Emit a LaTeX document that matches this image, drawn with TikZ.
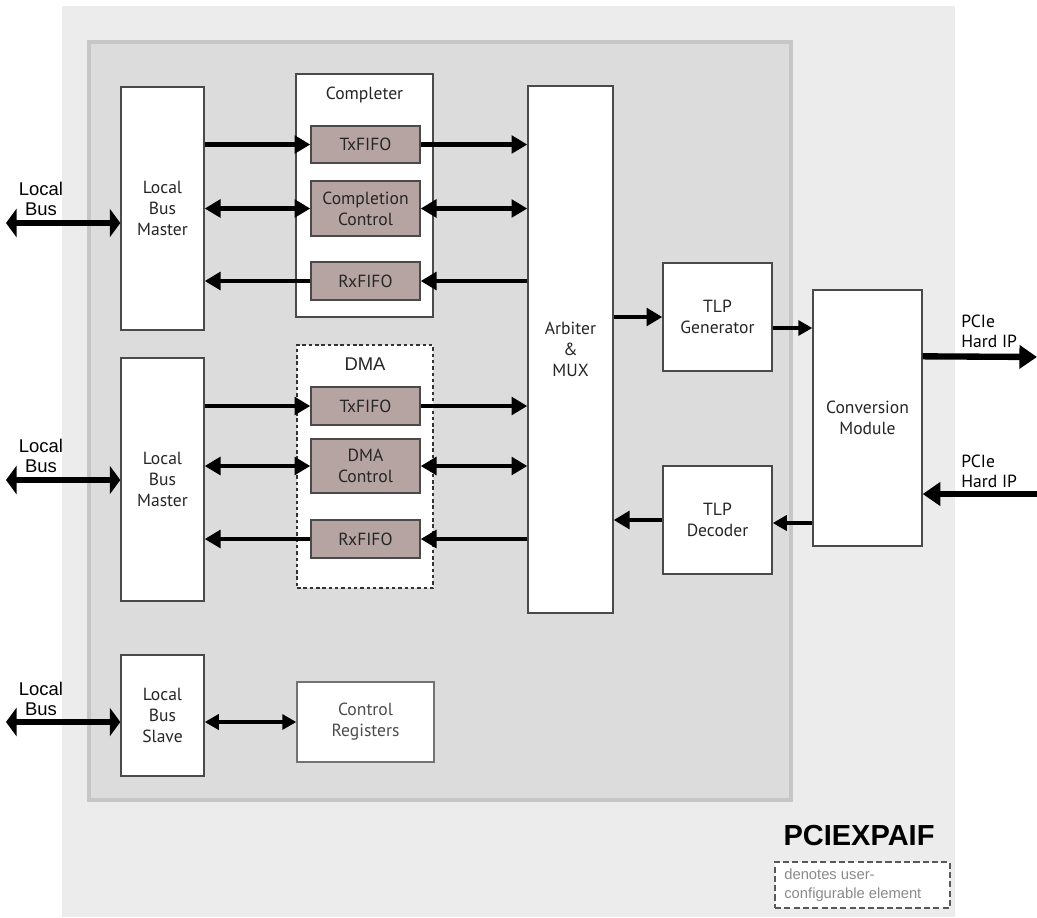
\documentclass[tikz,border=0pt]{standalone}
\usepackage{fontspec}
\setmainfont{PT Sans}
\newfontfamily\helvfont{Liberation Sans}
\usetikzlibrary{arrows.meta}
\definecolor{outergray}{HTML}{EBECEB}
\definecolor{innergray}{HTML}{DCDCDC}
\definecolor{innerrim}{HTML}{C6C6C6}
\definecolor{fifobrown}{HTML}{B6A4A2}
\definecolor{boxline}{HTML}{4A4A4A}
\definecolor{legendgray}{HTML}{8A8A8A}

\begin{document}
\begin{tikzpicture}[x=0.02cm, y=-0.02cm,
    blk/.style={draw=boxline, fill=white, line width=0.8pt, align=center,
                font=\fontsize{10}{12}\selectfont, text=black!85, inner sep=0pt},
    fifo/.style={blk, fill=fifobrown, minimum width=2.18cm},
    bus/.style={line width=2.6pt, -{Triangle[length=9pt,width=10pt]}},
    bibus/.style={line width=2.6pt, {Triangle[length=9pt,width=10pt]}-{Triangle[length=9pt,width=10pt]}},
    thinbus/.style={line width=2pt, -{Triangle[length=8pt,width=8.5pt]}},
    thinbibus/.style={line width=2pt, {Triangle[length=8pt,width=8.5pt]}-{Triangle[length=8pt,width=8.5pt]}},
    extbus/.style={line width=3.6pt, {Triangle[length=6pt,width=16pt]}-{Triangle[length=6pt,width=16pt]}},
    pcie/.style={line width=3.6pt, -{Triangle[length=10pt,width=13pt]}},
    tag/.style={font=\helvfont\fontsize{10.5}{11.5}\selectfont, align=center, inner sep=0pt}]
  \useasboundingbox (0,0) rectangle (1037,917);

  % backgrounds
  \fill[outergray] (62,6) rectangle (955,917);
  \draw[innerrim, fill=innergray, line width=2.8pt] (89,42) rectangle (791,800);

  % completer path
  \node[blk, minimum width=1.66cm, minimum height=4.86cm] (lbmA) at (162.5,208.5) {Local\\Bus\\Master};
  \node[blk, minimum width=2.74cm, minimum height=4.86cm] (complbox) at (364.5,195.5) {};
  \node[font=\fontsize{10}{12}\selectfont, text=black!85] (compltitle) at ([yshift=-0.44cm]complbox.north) {Completer};
  \node[fifo, minimum height=0.74cm] (txA) at (365.5,144.5) {TxFIFO};
  \node[fifo, minimum height=1.1cm] (ccA) at (365.5,208.5) {Completion\\Control};
  \node[fifo, minimum height=0.76cm] (rxA) at (365.5,281) {RxFIFO};

  % DMA path
  \node[blk, minimum width=1.66cm, minimum height=4.86cm] (lbmB) at (162.5,479.5) {Local\\Bus\\Master};
  \node[draw=black!80, fill=white, dash pattern=on 2pt off 1.6pt, line width=1.1pt,
        minimum width=2.72cm, minimum height=4.86cm] (dmabox) at (365,466.5) {};
  \node[tag, font=\helvfont\fontsize{10.5}{12}\selectfont, text=black!85] (dmatitle) at ([yshift=-0.40cm]dmabox.north) {DMA};
  \node[fifo, minimum height=0.76cm] (txB) at (365.5,406) {TxFIFO};
  \node[fifo, minimum height=1.08cm] (dmac) at (365.5,466) {DMA\\Control};
  \node[fifo, minimum height=0.76cm] (rxB) at (365.5,539) {RxFIFO};

  % arbiter, TLP and conversion
  \node[blk, minimum width=1.7cm, minimum height=10.54cm] (arb) at (570.5,349.5) {Arbiter\\\&\\MUX};
  \node[blk, minimum width=2.18cm, minimum height=2.16cm] (tlpg) at (717.5,317) {TLP\\Generator};
  \node[blk, minimum width=2.18cm, minimum height=2.16cm] (tlpd) at (717.5,520) {TLP\\Decoder};
  \node[blk, minimum width=2.18cm, minimum height=5.12cm] (conv) at (867.5,418) {Conversion\\Module};

  % slave
  \node[blk, minimum width=1.66cm, minimum height=2.42cm] (lbs) at (162.5,715.5) {Local\\Bus\\Slave};
  \node[blk, draw=black!55, text=black!70, minimum width=2.74cm, minimum height=1.6cm] (creg) at (365.5,722) {Control\\Registers};

  % external labels
  \node[tag] (lbtagA) at (41,199) {Local\\Bus};
  \node[tag] (lbtagB) at (41,456) {Local\\Bus};
  \node[tag] (lbtagC) at (41,699) {Local\\Bus};
  \node[anchor=west, align=left, font=\fontsize{10}{11.5}\selectfont, inner sep=0pt] (pcoutTag) at (961,331) {PCIe\\Hard IP};
  \node[anchor=west, align=left, font=\fontsize{10}{11.5}\selectfont, inner sep=0pt] (pcinTag) at (961,471) {PCIe\\Hard IP};

  \node[font=\helvfont\bfseries\fontsize{16.5}{18}\selectfont] (ipname) at (859,836) {PCIEXPAIF};
  \node[draw=black!65, fill=white, dash pattern=on 3.5pt off 1.8pt, line width=0.8pt,
        minimum width=3.5cm, minimum height=0.92cm] (legend) at (862.5,885) {};
  \node[anchor=west, align=left, text=legendgray, inner sep=0pt,
        font=\helvfont\fontsize{8.4}{10.6}\selectfont] (legendtxt) at (784,885) {denotes user-\\configurable element};

  % connectors, completer
  \draw[bus] (lbmA.east |- txA.west) -- (txA.west);
  \draw[bus] (txA.east) -- (arb.west |- txA.east);
  \draw[bibus] (lbmA.east |- ccA.west) -- (ccA.west);
  \draw[bibus] (ccA.east) -- (arb.west |- ccA.east);
  \draw[bus] (arb.west |- rxA.east) -- (rxA.east);
  \draw[bus] (rxA.west) -- (lbmA.east |- rxA.west);

  % connectors, DMA
  \draw[bus] (lbmB.east |- txB.west) -- (txB.west);
  \draw[bus] (txB.east) -- (arb.west |- txB.east);
  \draw[bibus] (lbmB.east |- dmac.west) -- (dmac.west);
  \draw[bibus] (dmac.east) -- (arb.west |- dmac.east);
  \draw[bus] (arb.west |- rxB.east) -- (rxB.east);
  \draw[bus] (rxB.west) -- (lbmB.east |- rxB.west);

  % connectors, TLP side
  \draw[bus] (arb.east |- tlpg.west) -- (tlpg.west);
  \coordinate (g2c) at ([yshift=-0.22cm]tlpg.east);
  \draw[thinbus] (g2c) -- (g2c -| conv.west);
  \coordinate (c2d) at ([yshift=-0.06cm]conv.west |- tlpd.east);
  \draw[thinbus] (c2d) -- (c2d -| tlpd.east);
  \draw[bus] (tlpd.west) -- (arb.east |- tlpd.west);

  % outside world
  \coordinate (pcoutS) at ([yshift=-1.34cm]conv.north east);
  \coordinate (pcoutE) at (1037,357);
  \draw[pcie] (pcoutS) -- (pcoutE);
  \coordinate (pcinS) at (1037,494);
  \draw[pcie] (pcinS) -- (conv.east |- pcinS);

  \coordinate (lbendA) at (6,223);
  \draw[extbus] (lbendA) -- (lbendA -| lbmA.west);
  \coordinate (lbendB) at (6,480);
  \draw[extbus] (lbendB) -- (lbendB -| lbmB.west);
  \coordinate (lbendC) at (6,722);
  \draw[extbus] (lbendC) -- (lbendC -| lbs.west);
  \draw[thinbibus] (lbs.east |- creg.west) -- (creg.west);
\end{tikzpicture}
\end{document}
